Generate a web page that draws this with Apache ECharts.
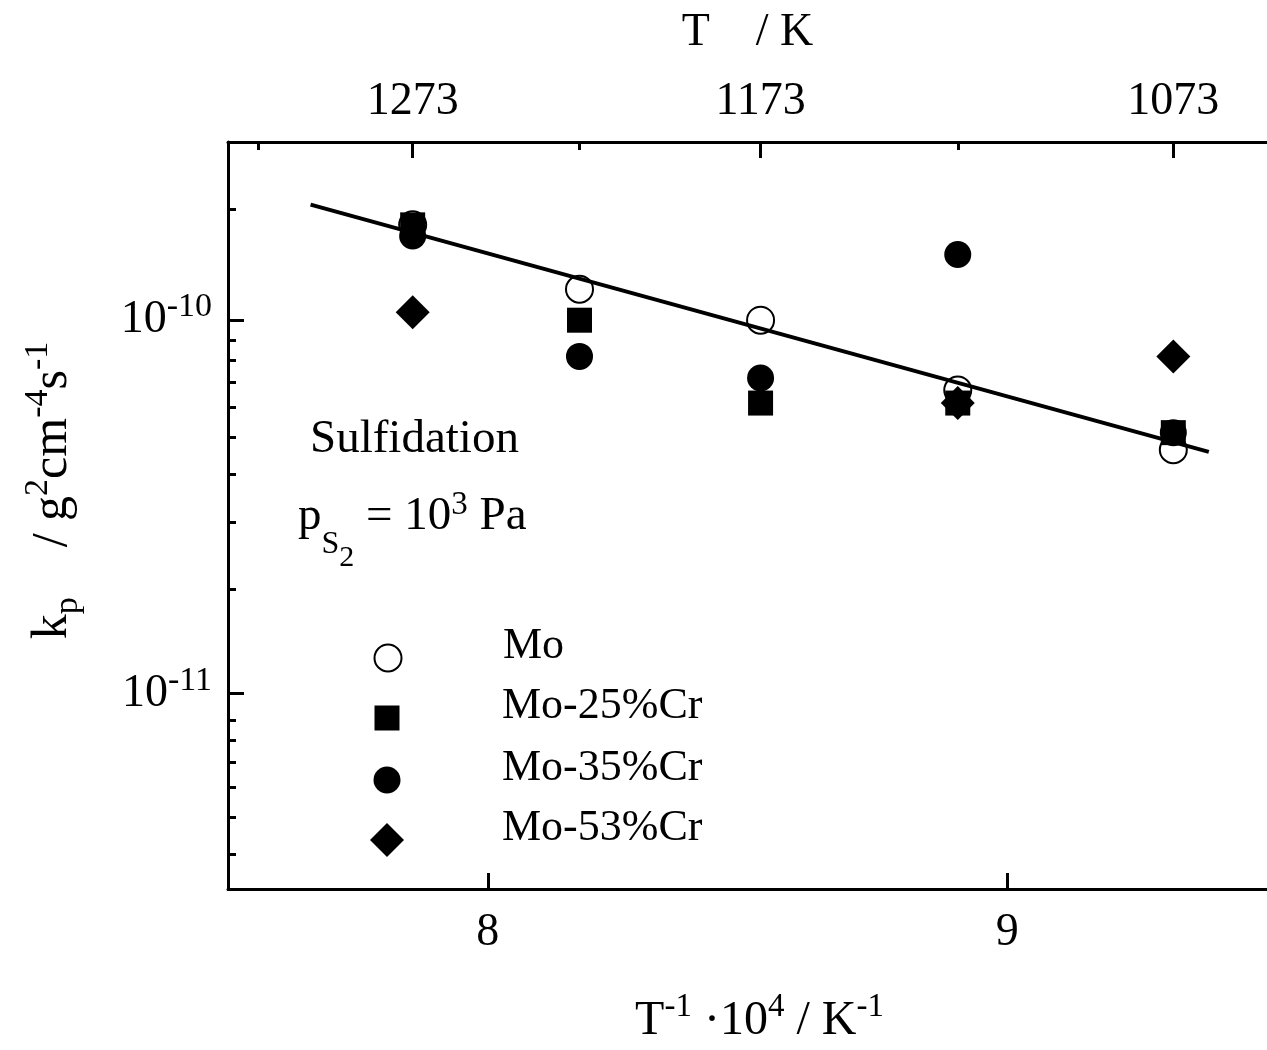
<!DOCTYPE html>
<html>
<head>
<meta charset="utf-8">
<script src="https://cdn.jsdelivr.net/npm/echarts@6/dist/echarts.min.js"></script>
<style>
html,body{margin:0;padding:0;background:#fff;}
#c{width:1267px;height:1050px;}
</style>
</head>
<body>
<div id="c"></div>
<script>
// ---- data ----
const temperaturesK = [1273, 1223, 1173, 1123, 1073];
const seriesNames = ['Mo', 'Mo-25%Cr', 'Mo-35%Cr', 'Mo-53%Cr'];
const kpMo   = [1.80e-10, 1.21e-10, 1.00e-10, 6.5e-11, 4.5e-11];
const kpMo25 = [1.80e-10, 1.00e-10, 6.0e-11, 6.0e-11, 5.0e-11];
const kpMo35 = [1.68e-10, 8.0e-11, 7.0e-11, 1.50e-10, 5.0e-11];
const kpMo53 = [1.05e-10, null, null, 6.0e-11, 8.0e-11];
const fitInvT = [7.659, 9.388];
const fitKp = [2.04e-10, 4.44e-11];
const bottomTicks = [8, 9];
const topMajorT = [1273, 1173, 1073];
const topMinorT = [1323, 1223, 1123];
const yMajor = [1e-11, 1e-10];
const yMinor = [4e-12, 5e-12, 6e-12, 7e-12, 8e-12, 9e-12,
                2e-11, 3e-11, 4e-11, 5e-11, 6e-11, 7e-11, 8e-11, 9e-11, 2e-10];

// ---- helpers ----
const FF = "'Liberation Serif','Times New Roman',serif";
const invT = t => 1e4 / t;
const pairs = vals => temperaturesK.map((t, i) => vals[i] == null ? null : [invT(t), vals[i]]).filter(Boolean);

const blk = '#000';
const richLabel = {
  m:   {fontSize: 46, fontFamily: FF, color: blk, lineHeight: 60},
  sup: {fontSize: 34, fontFamily: FF, color: blk, lineHeight: 34, verticalAlign: 'top'}
};
const richXName = {
  m:   {fontSize: 48, fontFamily: FF, color: blk, lineHeight: 60},
  sup: {fontSize: 33, fontFamily: FF, color: blk, lineHeight: 33, verticalAlign: 'top'}
};
const axLine = {show: true, lineStyle: {color: blk, width: 3}};

const chart = echarts.init(document.getElementById('c'), null, {renderer: 'canvas'});

const legends = [];
const legendRows = [658, 718, 780, 840];
const legendSizes = [27, 25, 27, 34];
const legendStyles = [
  {color: '#fff', borderColor: '#000', borderWidth: 2},
  {color: '#000', borderWidth: 0},
  {color: '#000', borderWidth: 0},
  {color: '#000', borderWidth: 0}
];
seriesNames.forEach((n, i) => {
  const w = legendSizes[i];
  legends.push({
    data: [n], orient: 'horizontal', left: 387 - w / 2, top: legendRows[i] - 34,
    itemWidth: w, itemHeight: w, itemGap: 0, padding: 0, selectedMode: false,
    itemStyle: legendStyles[i],
    formatter: nm => '{g|}{t|' + nm + '}',
    textStyle: {fontSize: 44, fontFamily: FF, color: blk, lineHeight: 44,
      rich: {g: {width: 502 - (387 + w / 2 + 5)}, t: {fontSize: 44, fontFamily: FF, color: blk, lineHeight: 44, padding: [0, 0, 24, 0]}}}
  });
});

const option = {
  animation: false,
  backgroundColor: '#fff',
  grid: [
    {left: 228, top: 142, width: 1057, height: 760, containLabel: false},
    {left: 228, top: 142, width: 1057, height: 760, containLabel: false}
  ],
  legend: legends,
  xAxis: [
    {
      gridIndex: 0, type: 'value', position: 'bottom', min: 7.5, max: 9.5,
      axisLine: axLine,
      axisTick: {show: true, inside: true, length: 16, lineStyle: {color: blk, width: 3}, customValues: bottomTicks},
      axisLabel: {show: true, customValues: bottomTicks, fontSize: 46, fontFamily: FF, color: blk, margin: 21},
      splitLine: {show: false},
      name: '{m|T}{sup|-1}{m| ·10}{sup|4}{m| / K}{sup|-1}',
      nameLocation: 'middle', nameGap: 102,
      nameTextStyle: {rich: richXName, padding: [0, 0, 0, 24]}
    },
    {
      gridIndex: 0, type: 'value', position: 'top', min: 7.5, max: 9.5,
      axisLine: axLine,
      axisTick: {show: true, inside: true, length: 16, lineStyle: {color: blk, width: 3}, customValues: topMajorT.map(invT)},
      axisLabel: {show: true, customValues: topMajorT.map(invT), formatter: v => String(Math.round(1e4 / v)),
        fontSize: 46, fontFamily: FF, color: blk, margin: 17},
      splitLine: {show: false},
      name: 'T    / K', nameLocation: 'middle', nameGap: 86,
      nameTextStyle: {fontSize: 46, fontFamily: FF, color: blk}
    },
    {
      gridIndex: 1, type: 'value', position: 'top', min: 7.5, max: 9.5,
      axisLine: {show: false},
      axisTick: {show: true, inside: true, length: 8, lineStyle: {color: blk, width: 3}, customValues: topMinorT.map(invT)},
      axisLabel: {show: false}, splitLine: {show: false}
    }
  ],
  yAxis: [
    {
      gridIndex: 0, type: 'log', logBase: 10, min: 3e-12, max: 3e-10, position: 'left',
      axisLine: axLine,
      axisTick: {show: true, inside: true, length: 16, lineStyle: {color: blk, width: 3}, customValues: yMajor},
      axisLabel: {show: true, customValues: yMajor, margin: 16,
        formatter: v => '{m|10}{sup|' + Math.round(Math.log10(v)) + '}',
        rich: richLabel},
      splitLine: {show: false}, minorTick: {show: false},
      name: '{m|k}{sub|p}{m|    / g}{sup|2}{m|cm}{sup|-4}{m|s}{sup|-1}',
      nameLocation: 'middle', nameGap: 143, nameRotate: 90,
      nameTextStyle: {rich: {
        m:   {fontSize: 50, fontFamily: FF, color: blk, lineHeight: 64},
        sup: {fontSize: 34, fontFamily: FF, color: blk, lineHeight: 34, verticalAlign: 'top'},
        sub: {fontSize: 34, fontFamily: FF, color: blk, lineHeight: 34, verticalAlign: 'bottom'}
      }, padding: [0, 0, 0, 50]}
    },
    {
      gridIndex: 1, type: 'log', logBase: 10, min: 3e-12, max: 3e-10, position: 'left',
      axisLine: {show: false},
      axisTick: {show: true, inside: true, length: 8, lineStyle: {color: blk, width: 3}, customValues: yMinor},
      axisLabel: {show: false}, splitLine: {show: false}
    }
  ],
  series: [
    {name: seriesNames[0], type: 'scatter', xAxisIndex: 0, yAxisIndex: 0, data: pairs(kpMo),
      symbol: 'circle', symbolSize: 27, silent: true, z: 2,
      itemStyle: {color: '#fff', borderColor: '#000', borderWidth: 2, opacity: 1}},
    {name: seriesNames[1], type: 'scatter', xAxisIndex: 0, yAxisIndex: 0, data: pairs(kpMo25),
      symbol: 'rect', symbolSize: 25, silent: true, z: 3,
      itemStyle: {color: '#000', opacity: 1}},
    {name: seriesNames[2], type: 'scatter', xAxisIndex: 0, yAxisIndex: 0, data: pairs(kpMo35),
      symbol: 'circle', symbolSize: 27, silent: true, z: 3,
      itemStyle: {color: '#000', opacity: 1}},
    {name: seriesNames[3], type: 'scatter', xAxisIndex: 0, yAxisIndex: 0, data: pairs(kpMo53),
      symbol: 'diamond', symbolSize: 34, silent: true, z: 3,
      itemStyle: {color: '#000', opacity: 1}},
    {name: 'fit', type: 'line', xAxisIndex: 0, yAxisIndex: 0,
      data: fitInvT.map((x, i) => [x, fitKp[i]]), symbol: 'none', silent: true, z: 4,
      lineStyle: {color: '#000', width: 4}}
  ],
  graphic: [
    {type: 'text', left: 310, top: 416, silent: true,
      style: {text: 'Sulfidation', fontSize: 47, fontFamily: FF, fill: blk}},
    {type: 'text', left: 298, top: 489, silent: true,
      style: {text: '{m|p}{s1|S}{s2|2}{m| = 10}{sup|3}{m| Pa}',
        rich: {
          m:   {fontSize: 47, fontFamily: FF, fill: blk, lineHeight: 74, verticalAlign: 'top', padding: [4, 0, 0, 0]},
          s1:  {fontSize: 32, fontFamily: FF, fill: blk, lineHeight: 32, verticalAlign: 'top', padding: [40, 0, 0, 0]},
          s2:  {fontSize: 30, fontFamily: FF, fill: blk, lineHeight: 30, verticalAlign: 'top', padding: [54, 0, 0, 0]},
          sup: {fontSize: 33, fontFamily: FF, fill: blk, lineHeight: 33, verticalAlign: 'top'}
        }}}
  ]
};
chart.setOption(option);
</script>
</body>
</html>
